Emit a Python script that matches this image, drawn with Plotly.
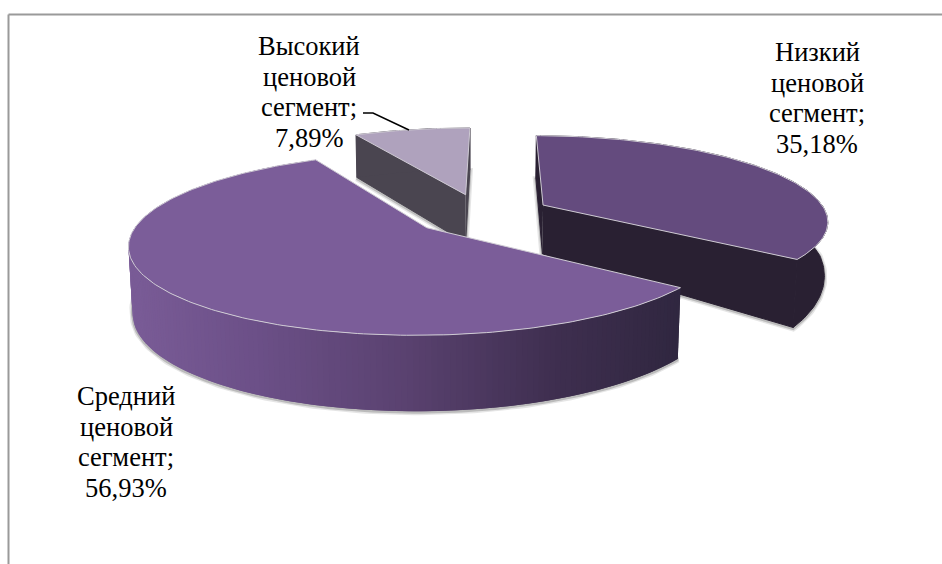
import numpy as np
import plotly.graph_objects as go

# Chart data
names = [["Низкий", "ценовой", "сегмент;"],
         ["Средний", "ценовой", "сегмент;"],
         ["Высокий", "ценовой", "сегмент;"]]
shares = [35.18, 56.93, 7.89]
top_colors = ["#644B7E", "#7B5D99", "#AFA2BD"]
wall_colors = ["#292032", None, "#4A4550"]
label_centers = [(817, 52), (126, 396), (309, 46)]
LINE_STEP = 30.6

# Pie geometry and camera
START_ANGLE = 0.5
EXPLODE = 0.246
CX, CY = 481.5, 214.0
RX, RY = 284.0, 84.0
PERSP = 0.17
NADIR_X, NADIR_DIST = 470.0, 5600.0
DEPTH_Y = [128, 206, 259, 287, 336, 400]
DEPTH_H = [42, 49, 68, 71, 76, 80]

# Side wall shading of the large slice, from its left end to its right end
SHADE_X = [130, 250, 400, 550, 680]
SHADE_R = [0x7A, 0x6C, 0x5A, 0x3F, 0x30]
SHADE_G = [0x5C, 0x50, 0x42, 0x2F, 0x27]
SHADE_B = [0x97, 0x88, 0x70, 0x50, 0x40]


def project(px, py):
    g = 1.0 / (1.0 - PERSP * py)
    return CX + RX * px * g, CY + RY * py * g


def drop(x, y):
    h = np.interp(y, DEPTH_Y, DEPTH_H)
    return x - (x - NADIR_X) * h / NADIR_DIST, y + h


def poly(x, y, fill, line=None, width=1.0):
    return go.Scatter(x=list(x), y=list(y), mode="lines", fill="toself",
                      fillcolor=fill, line=dict(color=line or fill, width=width),
                      hoverinfo="skip", showlegend=False)


def outline(x, y, color, width):
    return go.Scatter(x=list(x), y=list(y), mode="lines",
                      line=dict(color=color, width=width),
                      hoverinfo="skip", showlegend=False)


fig = go.Figure()

spans = []
a = START_ANGLE
for s in shares:
    b = a + s * 3.6
    spans.append((a, b))
    a = b

shapes_data = []
for (a0, a1) in spans:
    mid = np.radians((a0 + a1) / 2)
    ox, oy = EXPLODE * np.sin(mid), -EXPLODE * np.cos(mid)
    th = np.radians(np.linspace(a0, a1, max(int(a1 - a0), 2) + 1))
    ax, ay = project(ox, oy)
    tx, ty = project(ox + np.sin(th), oy - np.cos(th))
    bx, by = drop(tx, ty)
    bax, bay = drop(np.array(ax), np.array(ay))
    shapes_data.append((float(ax), float(ay), tx, ty, bx, by, float(bax), float(bay)))

# Back slices first, the large front slice last
for idx in (2, 0, 1):
    ax, ay, tx, ty, bx, by, bax, bay = shapes_data[idx]

    # soft contact shadow along the base
    sx = np.concatenate([[bax], bx, [bax]])
    sy = np.concatenate([[bay], by, [bay]])
    fig.add_trace(outline(sx, sy + 1, "rgba(0,0,0,0.10)", 6))
    fig.add_trace(outline(sx, sy + 1, "rgba(0,0,0,0.18)", 3))

    # side walls
    if wall_colors[idx]:
        c = wall_colors[idx]
        fig.add_trace(poly([ax, tx[0], bx[0], bax], [ay, ty[0], by[0], bay], c))
        fig.add_trace(poly([ax, tx[-1], bx[-1], bax], [ay, ty[-1], by[-1], bay], c))
        fig.add_trace(poly(np.concatenate([tx, bx[::-1]]),
                           np.concatenate([ty, by[::-1]]), c))
    else:
        # overlapping strips, so the gradient shows no seams
        for i in range(len(tx) - 1):
            j = max(i - 1, 0)
            xm = (tx[i] + tx[i + 1]) / 2
            col = "rgb(%d,%d,%d)" % (np.interp(xm, SHADE_X, SHADE_R),
                                     np.interp(xm, SHADE_X, SHADE_G),
                                     np.interp(xm, SHADE_X, SHADE_B))
            fig.add_trace(poly([tx[j], tx[i + 1], bx[i + 1], bx[j]],
                               [ty[j], ty[i + 1], by[i + 1], by[j]], col, width=0))

    # top face with its pale bevel edge
    fig.add_trace(poly(np.concatenate([[ax], tx, [ax]]),
                       np.concatenate([[ay], ty, [ay]]),
                       top_colors[idx], line="#CFCBD4", width=1.0))

# Leader line of the small slice
fig.add_trace(outline([363, 373, 409], [113, 113, 130], "#000000", 1.5))

for lines, share, (lx, ly) in zip(names, shares, label_centers):
    rows = lines + [f"{share:.2f}".replace(".", ",") + "%"]
    for i, row in enumerate(rows):
        fig.add_annotation(x=lx, y=ly + i * LINE_STEP, text=row, showarrow=False,
                           xref="x", yref="y", xanchor="center", yanchor="middle",
                           font=dict(family="Liberation Serif", size=26.5, color="#000000"))

fig.update_layout(
    width=942, height=564, margin=dict(l=0, r=0, t=0, b=0),
    paper_bgcolor="#FFFFFF", plot_bgcolor="#FFFFFF", showlegend=False,
    xaxis=dict(range=[0, 942], visible=False, fixedrange=True),
    yaxis=dict(range=[564, 0], visible=False, fixedrange=True),
    shapes=[dict(type="line", x0=8.5, x1=8.5, y0=14.5, y1=564,
                 line=dict(color="#9A9A9A", width=2)),
            dict(type="line", x0=8.5, x1=942, y0=14.5, y1=14.5,
                 line=dict(color="#9A9A9A", width=2))],
)

fig.write_html("out.html", config={"displayModeBar": False})
